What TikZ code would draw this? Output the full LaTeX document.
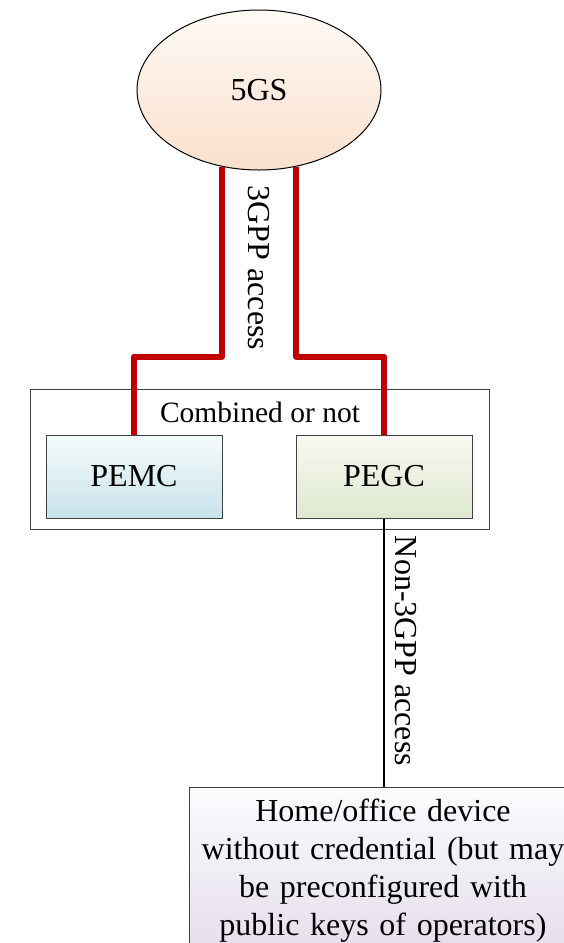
\documentclass[tikz,border=0pt]{standalone}
\usepackage{fontspec}
\setmainfont{Liberation Serif}
\usetikzlibrary{shapes.geometric,calc}
\definecolor{redline}{HTML}{C00000}
\definecolor{boxline}{HTML}{404040}
\tikzset{
  bigtext/.style={font=\fontsize{32}{38.3}\selectfont},
  ebox/.style={rectangle, draw=boxline, line width=1pt, minimum width=176, minimum height=83, bigtext},
  redpath/.style={draw=redline, line width=6pt, line join=round},
  blackpath/.style={draw=black, line width=2pt},
  rlabel/.style={bigtext, rotate=-90, inner sep=0pt}
}
\begin{document}
\begin{tikzpicture}[x=1pt,y=-1pt]
\useasboundingbox (0,0) rectangle (564,943);
% 5GS ellipse
\node[ellipse, draw=black, line width=1pt, minimum width=244, minimum height=160,
      top color={rgb,255:red,254;green,250;blue,246}, bottom color={rgb,255:red,250;green,224;blue,204}, bigtext] (g5) at (259,90) {5GS};
% group box
\node[rectangle, draw=boxline, line width=1pt, minimum width=459, minimum height=140] (grp) at (259.5,459) {};
\node[font=\fontsize{29.5}{34}\selectfont, inner sep=0pt] (cmb) at (260,412) {Combined or not};
% PEMC / PEGC
\node[ebox, top color={rgb,255:red,245;green,250;blue,252}, bottom color={rgb,255:red,200;green,227;blue,234}] (pemc) at (134,476.5) {PEMC};
\node[ebox, top color={rgb,255:red,248;green,249;blue,243}, bottom color={rgb,255:red,222;green,232;blue,206}] (pegc) at (384,476.5) {PEGC};
% device box
\node[rectangle, draw=boxline, line width=1pt, anchor=north, minimum width=386, text width=380, align=center,
      inner ysep=11pt, bigtext, top color={rgb,255:red,252;green,251;blue,253}, bottom color={rgb,255:red,228;green,222;blue,236}] (dev) at (383,787)
  {Home/office device\\ without credential (but may\\ be preconfigured with\\ public keys of operators)};
% connectors
\draw[redpath] (g5.-116) |- ($(pemc.north)+(0,-78)$) -- (pemc.north);
\draw[redpath] (g5.-64) |- ($(pegc.north)+(0,-78)$) -- (pegc.north);
\draw[blackpath] (pegc.south) -- (pegc.south |- dev.north);
% labels
\node[rlabel] (l3gpp) at (259,268) {3GPP access};
\node[rlabel] (ln3gpp) at (406,651) {Non-3GPP access};
\end{tikzpicture}
\end{document}
